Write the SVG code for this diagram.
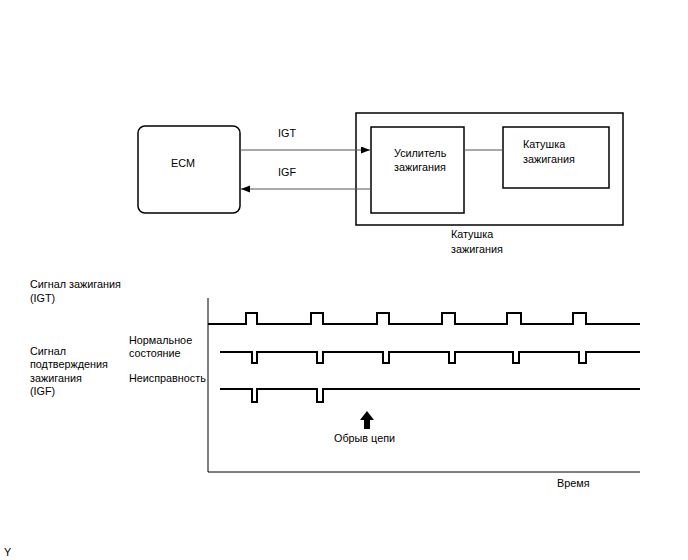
<svg xmlns="http://www.w3.org/2000/svg" width="688" height="560" viewBox="0 0 688 560">
<style>
text{font-family:"Liberation Sans",Arial,sans-serif;font-size:10.8px;fill:#000}
.box{fill:#fff;stroke:#000;stroke-width:1.5}
.conn{stroke:#555;stroke-width:1;fill:none}
.wave{stroke:#000;stroke-width:2;fill:none}
.axis{stroke:#000;stroke-width:1;fill:none}
</style>
<defs>
<marker id="ah" markerWidth="10" markerHeight="8" refX="9" refY="3.5" orient="auto" markerUnits="userSpaceOnUse">
<path d="M0,0 L9,3.5 L0,7 Z" fill="#000"/>
</marker>
</defs>
<rect width="688" height="560" fill="#fff"/>
<g id="coil-assembly">
<rect class="box" x="356" y="113" width="267" height="112"/>
<text x="451" y="238">Катушка</text>
<text x="451" y="253">зажигания</text>
</g>
<g id="ecm">
<rect class="box" x="138" y="126" width="102" height="87" rx="7"/>
<text x="171" y="167">ECM</text>
</g>
<g id="amplifier">
<rect class="box" x="371" y="127" width="93" height="86"/>
<text x="394" y="157">Усилитель</text>
<text x="394" y="171">зажигания</text>
</g>
<g id="coil">
<rect class="box" x="503" y="127" width="106" height="61"/>
<text x="523" y="148">Катушка</text>
<text x="523" y="163">зажигания</text>
</g>
<g id="connectors">
<line class="conn" x1="240" y1="150" x2="370" y2="150" marker-end="url(#ah)"/>
<line class="conn" x1="371" y1="189" x2="241" y2="189" marker-end="url(#ah)"/>
<line class="conn" x1="464" y1="150" x2="503" y2="150"/>
<text x="278" y="137">IGT</text>
<text x="278" y="176">IGF</text>
</g>
<g id="chart">
<path class="axis" d="M208,298 V472 H640"/>
<path class="wave" d="M208,324 H246 V313 H257 V324 H311 V313 H323 V324 H377 V313 H389 V324 H442 V313 H455 V324 H507 V313 H521 V324 H573 V313 H586 V324 H640"/>
<path class="wave" d="M220,352 H252 V363 H257 V352 H317 V363 H323 V352 H383 V363 H389 V352 H449 V363 H455 V352 H513 V363 H519 V352 H579 V363 H586 V352 H640"/>
<path class="wave" d="M220,389 H252 V402 H257 V389 H317 V402 H323 V389 H640"/>
<path d="M367,411 L374,420 L370,420 L370,429 L364,429 L364,420 L360,420 Z" fill="#000"/>
<text x="334" y="442">Обрыв цепи</text>
<text x="557" y="487">Время</text>
<text x="30" y="288">Сигнал зажигания</text>
<text x="30" y="302">(IGT)</text>
<text x="129" y="344">Нормальное</text>
<text x="129" y="357">состояние</text>
<text x="129" y="382">Неисправность</text>
<text x="30" y="355">Сигнал</text>
<text x="30" y="368">подтверждения</text>
<text x="30" y="382">зажигания</text>
<text x="30" y="395">(IGF)</text>
</g>
<text x="4" y="556">Y</text>
</svg>
